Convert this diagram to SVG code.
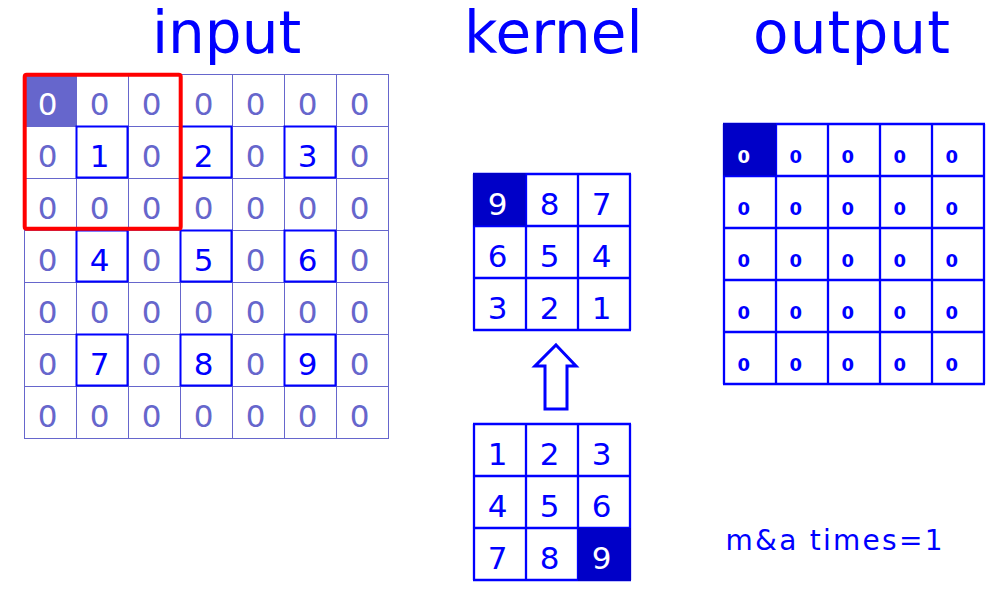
<svg xmlns="http://www.w3.org/2000/svg" width="1000" height="600" viewBox="0 0 1000 600">
<style>
.title{font-family:"DejaVu Sans",sans-serif;font-size:58px;fill:#0000ff}
.thin{fill:none;stroke:#6666cc;stroke-width:1}
.box{fill:none;stroke:#0000ff;stroke-width:2}
.grid{fill:none;stroke:#0000ff;stroke-width:2.3}
.dig{font-family:"DejaVu Sans",sans-serif;font-size:31px;text-anchor:middle}
.odig{font-family:"DejaVu Sans",sans-serif;font-weight:bold;font-size:18px;text-anchor:middle;fill:#0000ff}
.z{fill:#6666cc}
.n{fill:#0000ff}
.w{fill:#ffffff}
.dark{fill:#0000c8}
</style>
<rect width="1000" height="600" fill="#ffffff"/>

<g id="titles">
<text class="title" x="152" y="52.5">input</text>
<text class="title" x="464" y="52.5">kernel</text>
<text class="title" x="753" y="52.5" textLength="197" lengthAdjust="spacing">output</text>
</g>

<g id="input">
<rect x="24" y="74" width="52" height="52" fill="#6666cc"/>
<path class="thin" d="M24.5 74V438M76.5 74V438M128.5 74V438M180.5 74V438M232.5 74V438M284.5 74V438M336.5 74V438M388.5 74V438M24 74.5H389M24 126.5H389M24 178.5H389M24 230.5H389M24 282.5H389M24 334.5H389M24 386.5H389M24 438.5H389"/>
<rect class="box" x="76.5" y="126.5" width="51" height="51"/>
<rect class="box" x="180.5" y="126.5" width="51" height="51"/>
<rect class="box" x="284.5" y="126.5" width="51" height="51"/>
<rect class="box" x="76.5" y="230.5" width="51" height="51"/>
<rect class="box" x="180.5" y="230.5" width="51" height="51"/>
<rect class="box" x="284.5" y="230.5" width="51" height="51"/>
<rect class="box" x="76.5" y="334.5" width="51" height="51"/>
<rect class="box" x="180.5" y="334.5" width="51" height="51"/>
<rect class="box" x="284.5" y="334.5" width="51" height="51"/>
<g class="dig">
<text class="w" x="47.5" y="115">0</text><text class="z" x="99.5" y="115">0</text><text class="z" x="151.5" y="115">0</text><text class="z" x="203.5" y="115">0</text><text class="z" x="255.5" y="115">0</text><text class="z" x="307.5" y="115">0</text><text class="z" x="359.5" y="115">0</text>
<text class="z" x="47.5" y="167">0</text><text class="n" x="99.5" y="167">1</text><text class="z" x="151.5" y="167">0</text><text class="n" x="203.5" y="167">2</text><text class="z" x="255.5" y="167">0</text><text class="n" x="307.5" y="167">3</text><text class="z" x="359.5" y="167">0</text>
<text class="z" x="47.5" y="219">0</text><text class="z" x="99.5" y="219">0</text><text class="z" x="151.5" y="219">0</text><text class="z" x="203.5" y="219">0</text><text class="z" x="255.5" y="219">0</text><text class="z" x="307.5" y="219">0</text><text class="z" x="359.5" y="219">0</text>
<text class="z" x="47.5" y="271">0</text><text class="n" x="99.5" y="271">4</text><text class="z" x="151.5" y="271">0</text><text class="n" x="203.5" y="271">5</text><text class="z" x="255.5" y="271">0</text><text class="n" x="307.5" y="271">6</text><text class="z" x="359.5" y="271">0</text>
<text class="z" x="47.5" y="323">0</text><text class="z" x="99.5" y="323">0</text><text class="z" x="151.5" y="323">0</text><text class="z" x="203.5" y="323">0</text><text class="z" x="255.5" y="323">0</text><text class="z" x="307.5" y="323">0</text><text class="z" x="359.5" y="323">0</text>
<text class="z" x="47.5" y="375">0</text><text class="n" x="99.5" y="375">7</text><text class="z" x="151.5" y="375">0</text><text class="n" x="203.5" y="375">8</text><text class="z" x="255.5" y="375">0</text><text class="n" x="307.5" y="375">9</text><text class="z" x="359.5" y="375">0</text>
<text class="z" x="47.5" y="427">0</text><text class="z" x="99.5" y="427">0</text><text class="z" x="151.5" y="427">0</text><text class="z" x="203.5" y="427">0</text><text class="z" x="255.5" y="427">0</text><text class="z" x="307.5" y="427">0</text><text class="z" x="359.5" y="427">0</text>
</g>
<rect x="24.7" y="74.7" width="156" height="154" rx="2" fill="none" stroke="#ff0000" stroke-width="4"/>
</g>

<g id="kernel-flipped">
<path class="grid" d="M474 174V330M526 174V330M578 174V330M630 174V330M473 174H631M473 226H631M473 278H631M473 330H631"/>
<rect class="dark" x="473" y="173" width="52.5" height="52.5"/>
<g class="dig">
<text class="w" x="497.5" y="215">9</text><text class="n" x="549.5" y="215">8</text><text class="n" x="601.5" y="215">7</text>
<text class="n" x="497.5" y="267">6</text><text class="n" x="549.5" y="267">5</text><text class="n" x="601.5" y="267">4</text>
<text class="n" x="497.5" y="319">3</text><text class="n" x="549.5" y="319">2</text><text class="n" x="601.5" y="319">1</text>
</g>
</g>

<g id="kernel">
<path class="grid" d="M474 424V580M526 424V580M578 424V580M630 424V580M473 424H631M473 476H631M473 528H631M473 580H631"/>
<rect class="dark" x="578" y="528" width="53" height="53"/>
<g class="dig">
<text class="n" x="497.5" y="465">1</text><text class="n" x="549.5" y="465">2</text><text class="n" x="601.5" y="465">3</text>
<text class="n" x="497.5" y="517">4</text><text class="n" x="549.5" y="517">5</text><text class="n" x="601.5" y="517">6</text>
<text class="n" x="497.5" y="569">7</text><text class="n" x="549.5" y="569">8</text><text class="w" x="601.5" y="569">9</text>
</g>
</g>

<g id="connectors">
<polygon points="556,345 576,366 567,366 567,409 545,409 545,366 535,366" fill="none" stroke="#0000ff" stroke-width="3" stroke-linejoin="miter"/>
</g>

<g id="output">
<path class="grid" d="M724 124V384M776 124V384M828 124V384M880 124V384M932 124V384M984 124V384M723 124H985M723 176H985M723 228H985M723 280H985M723 332H985M723 384H985"/>
<rect class="dark" x="723" y="123" width="53" height="52.5"/>
<g class="odig">
<text class="w" x="743.7" y="163">0</text><text x="795.7" y="163">0</text><text x="847.7" y="163">0</text><text x="899.7" y="163">0</text><text x="951.7" y="163">0</text>
<text x="743.7" y="215">0</text><text x="795.7" y="215">0</text><text x="847.7" y="215">0</text><text x="899.7" y="215">0</text><text x="951.7" y="215">0</text>
<text x="743.7" y="267">0</text><text x="795.7" y="267">0</text><text x="847.7" y="267">0</text><text x="899.7" y="267">0</text><text x="951.7" y="267">0</text>
<text x="743.7" y="319">0</text><text x="795.7" y="319">0</text><text x="847.7" y="319">0</text><text x="899.7" y="319">0</text><text x="951.7" y="319">0</text>
<text x="743.7" y="371">0</text><text x="795.7" y="371">0</text><text x="847.7" y="371">0</text><text x="899.7" y="371">0</text><text x="951.7" y="371">0</text>
</g>
</g>

<g id="caption">
<text x="725.5" y="550" font-family="DejaVu Sans, sans-serif" font-size="28" fill="#0000ff" textLength="217" lengthAdjust="spacing">m&amp;a times=1</text>
</g>
</svg>
